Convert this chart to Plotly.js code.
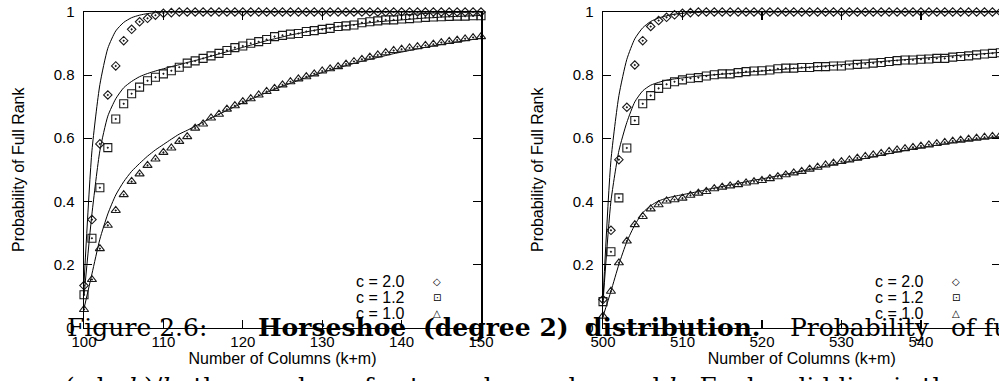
<!DOCTYPE html>
<html>
<head>
<meta charset="utf-8">
<script src="https://cdn.plot.ly/plotly-3.0.1.min.js"></script>
<style>
html,body{margin:0;padding:0;overflow:hidden;background:#fff;}
#chart{width:1002px;height:381px;}
</style>
</head>
<body>
<div id="chart"></div>
<script>
// ---------- data ----------
const xLeft = [100,101,102,103,104,105,106,107,108,109,110,111,112,113,114,115,116,117,118,119,120,121,122,123,124,125,126,127,128,129,130,131,132,133,134,135,136,137,138,139,140,141,142,143,144,145,146,147,148,149,150];
const xRight = [500,501,502,503,504,505,506,507,508,509,510,511,512,513,514,515,516,517,518,519,520,521,522,523,524,525,526,527,528,529,530,531,532,533,534,535,536,537,538,539,540,541,542,543,544,545,546,547,548,549,550];

const seriesNames = ['c = 2.0','c = 1.2','c = 1.0'];

// left panel (k = 100): simulated points
const leftC20 = [0.133,0.342,0.582,0.737,0.829,0.909,0.945,0.969,0.980,0.990,0.996,0.998,1,1,1,1,1,1,1,1,1,1,1,1,1,1,1,1,1,1,1,1,1,1,1,1,1,1,1,1,1,1,1,1,1,1,1,1,1,1,1];
const leftC12 = [0.104,0.283,0.443,0.570,0.661,0.709,0.741,0.762,0.782,0.793,0.804,0.814,0.825,0.838,0.845,0.853,0.861,0.869,0.878,0.887,0.892,0.901,0.906,0.913,0.922,0.926,0.930,0.932,0.938,0.941,0.945,0.948,0.954,0.956,0.959,0.966,0.969,0.972,0.975,0.975,0.978,0.979,0.981,0.983,0.984,0.985,0.986,0.987,0.987,0.988,0.988];
const leftC10 = [0.057,0.152,0.250,0.324,0.371,0.421,0.463,0.487,0.514,0.534,0.555,0.569,0.590,0.605,0.632,0.645,0.664,0.676,0.692,0.703,0.716,0.725,0.737,0.748,0.758,0.769,0.779,0.788,0.795,0.804,0.813,0.820,0.827,0.835,0.843,0.850,0.857,0.864,0.871,0.878,0.882,0.886,0.890,0.894,0.898,0.903,0.907,0.911,0.915,0.919,0.922];
// left panel: predicted curves
const leftFitC20 = [0.14,0.56,0.77,0.885,0.94,0.967,0.982,0.99,0.995,0.998,1,1,1,1,1,1,1,1,1,1,1,1,1,1,1,1,1,1,1,1,1,1,1,1,1,1,1,1,1,1,1,1,1,1,1,1,1,1,1,1,1];
const leftFitC12 = [0.10,0.36,0.56,0.67,0.725,0.76,0.78,0.795,0.805,0.813,0.82,0.827,0.833,0.84,0.846,0.853,0.86,0.867,0.874,0.881,0.888,0.895,0.902,0.909,0.915,0.921,0.927,0.932,0.937,0.942,0.946,0.95,0.954,0.957,0.96,0.963,0.966,0.969,0.971,0.973,0.975,0.977,0.979,0.981,0.982,0.984,0.985,0.986,0.987,0.988,0.989];
const leftFitC10 = [0.06,0.17,0.28,0.36,0.42,0.462,0.495,0.52,0.543,0.563,0.58,0.597,0.613,0.625,0.638,0.651,0.664,0.676,0.688,0.7,0.712,0.723,0.734,0.745,0.755,0.765,0.774,0.783,0.792,0.8,0.808,0.816,0.823,0.83,0.837,0.844,0.85,0.856,0.862,0.868,0.873,0.878,0.883,0.888,0.893,0.897,0.901,0.905,0.909,0.913,0.917];

// right panel (k = 500): simulated points
const rightC20 = [0.089,0.308,0.532,0.698,0.832,0.909,0.954,0.973,0.983,0.991,0.996,0.998,1,1,1,1,1,1,1,1,1,1,1,1,1,1,1,1,1,1,1,1,1,1,1,1,1,1,1,1,1,1,1,1,1,1,1,1,1,1,1];
const rightC12 = [0.082,0.240,0.411,0.569,0.656,0.709,0.735,0.758,0.771,0.779,0.785,0.790,0.792,0.797,0.801,0.804,0.804,0.808,0.811,0.813,0.814,0.816,0.820,0.822,0.822,0.824,0.824,0.827,0.827,0.829,0.829,0.832,0.834,0.835,0.838,0.840,0.843,0.846,0.848,0.848,0.850,0.851,0.853,0.853,0.857,0.859,0.861,0.864,0.867,0.869,0.871];
const rightC10 = [0.036,0.115,0.205,0.274,0.326,0.352,0.376,0.389,0.401,0.405,0.410,0.419,0.426,0.431,0.440,0.445,0.449,0.453,0.458,0.462,0.466,0.472,0.478,0.484,0.490,0.495,0.502,0.508,0.515,0.521,0.526,0.531,0.537,0.542,0.547,0.552,0.558,0.563,0.567,0.571,0.575,0.579,0.583,0.587,0.591,0.594,0.597,0.600,0.603,0.606,0.609];
// right panel: predicted curves
const rightFitC20 = [0.09,0.53,0.735,0.85,0.915,0.95,0.97,0.981,0.988,0.993,0.996,0.998,0.999,1,1,1,1,1,1,1,1,1,1,1,1,1,1,1,1,1,1,1,1,1,1,1,1,1,1,1,1,1,1,1,1,1,1,1,1,1,1];
const rightFitC12 = [0.08,0.40,0.56,0.65,0.715,0.75,0.768,0.777,0.784,0.788,0.791,0.794,0.797,0.799,0.801,0.803,0.805,0.807,0.809,0.811,0.813,0.815,0.817,0.819,0.821,0.823,0.825,0.827,0.829,0.831,0.833,0.835,0.837,0.839,0.841,0.843,0.845,0.847,0.849,0.851,0.853,0.855,0.857,0.859,0.861,0.863,0.865,0.866,0.868,0.870,0.872];
const rightFitC10 = [0.035,0.115,0.2,0.272,0.325,0.364,0.386,0.401,0.41,0.416,0.421,0.426,0.431,0.437,0.442,0.447,0.452,0.457,0.462,0.467,0.471,0.476,0.481,0.486,0.491,0.496,0.501,0.506,0.511,0.516,0.521,0.526,0.531,0.536,0.541,0.546,0.551,0.556,0.561,0.566,0.57,0.574,0.578,0.582,0.586,0.59,0.593,0.596,0.599,0.602,0.605];

const xTitle = 'Number of Columns (k+m)';
const yTitle = 'Probability of Full Rank';
const legendGlyphs = ['\u25C7','\u22A1','\u25B3'];

// ---------- layout helpers (pixel -> paper) ----------
const W = 1002, H = 381;
const px = v => v / W;
const py = v => 1 - v / H;

const symbols = ['diamond-open-dot','square-open-dot','triangle-up-open-dot'];
const sizes = [6.5, 8, 8];
const mkColor = '#1a1a1a';

function pts(x, y, i, xa, ya) {
  return {x: x, y: y, type: 'scatter', mode: 'markers', xaxis: xa, yaxis: ya,
    name: seriesNames[i], showlegend: false, cliponaxis: false,
    marker: {symbol: symbols[i], size: sizes[i], color: mkColor, line: {width: 1.1, color: mkColor}}};
}
function fit(x, y, xa, ya) {
  return {x: x, y: y, type: 'scatter', mode: 'lines', xaxis: xa, yaxis: ya,
    showlegend: false, hoverinfo: 'skip', cliponaxis: false,
    line: {color: '#000', width: 1, shape: 'spline', smoothing: 0.6}};
}

const traces = [
  fit(xLeft, leftFitC20, 'x', 'y'), fit(xLeft, leftFitC12, 'x', 'y'), fit(xLeft, leftFitC10, 'x', 'y'),
  pts(xLeft, leftC20, 0, 'x', 'y'), pts(xLeft, leftC12, 1, 'x', 'y'), pts(xLeft, leftC10, 2, 'x', 'y'),
  fit(xRight, rightFitC20, 'x2', 'y2'), fit(xRight, rightFitC12, 'x2', 'y2'), fit(xRight, rightFitC10, 'x2', 'y2'),
  pts(xRight, rightC20, 0, 'x2', 'y2'), pts(xRight, rightC12, 1, 'x2', 'y2'), pts(xRight, rightC10, 2, 'x2', 'y2')
];

const sans = 'Liberation Sans, Arial, Helvetica, sans-serif';
const serif = 'DejaVu Serif, serif';
const tickFont = {family: sans, size: 15, color: '#000'};
const titleFont = {family: sans, size: 16, color: '#000'};

function xAx(domain, range, anchor) {
  return {domain: domain, range: range, anchor: anchor, dtick: 10, tick0: range[0],
    showline: true, linecolor: '#000', linewidth: 1.5, mirror: 'ticks',
    ticks: 'inside', ticklen: 8, tickwidth: 1.2, tickcolor: '#000',
    showgrid: false, zeroline: false, tickfont: tickFont, ticklabelstandoff: 0,
    title: {text: xTitle, font: titleFont, standoff: 4}};
}
function yAx(domain, anchor) {
  return {domain: domain, range: [0, 1], anchor: anchor, dtick: 0.2, tick0: 0,
    showline: true, linecolor: '#000', linewidth: 1.5, mirror: 'ticks',
    ticks: 'inside', ticklen: 8, tickwidth: 1.2, tickcolor: '#000',
    showgrid: false, zeroline: false, tickfont: tickFont, ticklabelstandoff: 5,
    title: {text: yTitle, font: titleFont, standoff: 25}};
}

const yDom = [py(327.5), py(12)];
const annotations = [];

// legends (text left, symbol right, as in the original)
const legendRows = [281, 297, 313];
[[354, 437], [873, 956]].forEach(([tx, gx]) => {
  seriesNames.forEach((n, i) => {
    annotations.push({xref: 'paper', yref: 'paper', x: px(tx), y: py(legendRows[i]),
      xanchor: 'left', yanchor: 'middle', showarrow: false, text: n, font: {family: sans, size: 16, color: '#000'}});
    annotations.push({xref: 'paper', yref: 'paper', x: px(gx), y: py(legendRows[i]),
      xanchor: 'center', yanchor: 'middle', showarrow: false, text: legendGlyphs[i], font: {family: 'DejaVu Sans', size: 10, color: '#000'}});
  });
});

// overlapping caption text from the page
const capFont = {family: serif, size: 25, color: '#000'};
const capBase = 343;
const caption1 = [
  ['Figure 2.6:', 66],
  ['<b>Horseshoe</b>', 257],
  ['<b>(degree 2)</b>', 422],
  ['<b>distribution.</b>', 584],
  ['Probability', 789],
  ['of', 950],
  ['full rank', 983]
];
caption1.forEach(([t, x]) => {
  annotations.push({xref: 'paper', yref: 'paper', x: px(x), y: py(capBase), xanchor: 'left', yanchor: 'bottom',
    showarrow: false, text: t, font: capFont, borderpad: 0});
});
annotations.push({xref: 'paper', yref: 'paper', x: px(64), y: py(371), xanchor: 'left', yanchor: 'top',
  showarrow: false, font: capFont, borderpad: 0,
  text: '(<i>c</i> ln <i>k</i>)/<i>k</i>, the number of extra columns beyond <i>k</i>. Each solid line is the predicted value.'});

const layout = {
  width: W, height: H,
  margin: {l: 0, r: 0, t: 0, b: 0, pad: 0},
  paper_bgcolor: '#fff', plot_bgcolor: '#fff',
  showlegend: false,
  xaxis: xAx([px(84), px(481)], [100, 150], 'y'),
  yaxis: yAx(yDom, 'x'),
  xaxis2: xAx([px(603), px(1000.4)], [500, 550], 'y2'),
  yaxis2: yAx(yDom, 'x2'),
  annotations: annotations
};

Plotly.newPlot('chart', traces, layout, {staticPlot: true, displayModeBar: false});
</script>
</body>
</html>
